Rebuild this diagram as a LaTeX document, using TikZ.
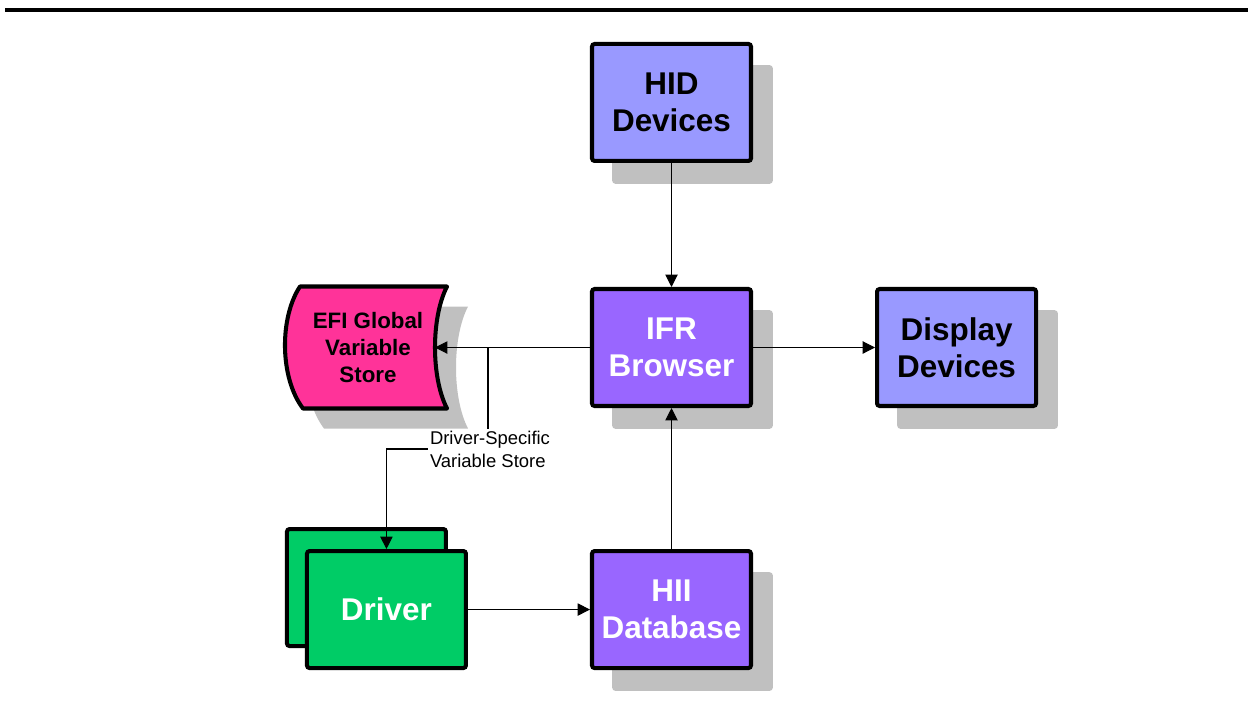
\documentclass[tikz,border=0pt]{standalone}
\usepackage{fontspec}
\setmainfont{Liberation Sans}
\usepackage{tikz}
\usetikzlibrary{positioning, arrows.meta, shadows}
\definecolor{devblue}{HTML}{9999FF}
\definecolor{corepurple}{HTML}{9966FF}
\definecolor{storepink}{HTML}{FF3399}
\definecolor{drvgreen}{HTML}{00CC66}
\definecolor{shadegray}{HTML}{C0C0C0}
\newcommand{\efishape}{(-1.36,1.22) -- (1.58,1.22) .. controls (1.26,0.6) and (1.26,-0.6) .. (1.58,-1.22) -- (-1.30,-1.22) .. controls (-1.77,-0.6) and (-1.77,0.6) .. cycle}
\tikzset{
  gray shadow/.style={
    general shadow={shadow xshift=0.42cm, shadow yshift=-0.44cm,
      fill=shadegray, draw=shadegray, line width=1pt}
  },
  fw block/.style={
    draw=black,
    line width=2.3pt,
    rounded corners=1.5pt,
    minimum width=3.18cm,
    minimum height=2.34cm,
    inner sep=0pt,
    align=center,
    font=\fontsize{17.9}{21.3}\selectfont\bfseries
  },
  dev block/.style={fw block, fill=devblue, text=black, gray shadow},
  core block/.style={fw block, fill=corepurple, text=white, gray shadow},
  drv block/.style={fw block, fill=drvgreen, text=white},
  store text/.style={align=center, font=\fontsize{12.7}{15.4}\selectfont\bfseries},
  note box/.style={fill=white, inner sep=1pt, align=left,
    font=\fontsize{10.5}{13}\selectfont},
  flow/.style={-{Triangle[length=7pt,width=7pt]}, line width=0.6pt},
  flow line/.style={line width=0.6pt}
}
\begin{document}
\begin{tikzpicture}
  \useasboundingbox (0,0) rectangle (24.96,-14.16);
  \coordinate (rule-l) at (0.1,-0.2);
  \coordinate (rule-r) at (24.96,-0.2);
  \draw[line width=1.8pt] (rule-l) -- (rule-r);

  % main blocks
  \node[core block] (ifr) at (13.43,-6.95) {IFR\\Browser};
  \node[dev block, above=2.48cm of ifr] (hid) {HID\\Devices};
  \node[dev block, right=2.44cm of ifr] (disp) {Display\\Devices};
  \node[core block, below=2.82cm of ifr] (hiidb) {HII\\Database};
  \node[drv block, left=2.44cm of hiidb, xshift=-0.4cm, yshift=0.44cm] (drvback) {};
  \node[drv block] (driver) at ([xshift=0.4cm,yshift=-0.44cm]drvback.center) {Driver};

  % variable store
  \coordinate (efi-c) at ([xshift=-6.07cm]ifr.center);
  \fill[shadegray, shift={(efi-c)}, xshift=0.42cm, yshift=-0.40cm] \efishape;
  \draw[fill=storepink, line width=2.3pt, line join=round, shift={(efi-c)}] \efishape;
  \node[store text] (efi) at (efi-c) {EFI Global\\Variable\\Store};
  \coordinate (efi-in) at ([xshift=1.34cm]efi-c);

  % connectors
  \draw[flow] (hid) -- (ifr);
  \draw[flow] (ifr) -- (disp);
  \draw[flow] (ifr.west) -- (efi-in);
  \coordinate (split) at ([xshift=-3.67cm]ifr.center);
  \node[note box] (dsvs) at ([xshift=-3.63cm,yshift=-2.03cm]ifr.center) {Driver-Specific\\Variable Store};
  \draw[flow line] (split) -- (split |- dsvs.north);
  \draw[flow] (dsvs.west) -| (driver.north);
  \draw[flow] (driver.east) -- (driver.east -| hiidb.west);
  \draw[flow] (hiidb) -- (ifr);
\end{tikzpicture}
\end{document}
